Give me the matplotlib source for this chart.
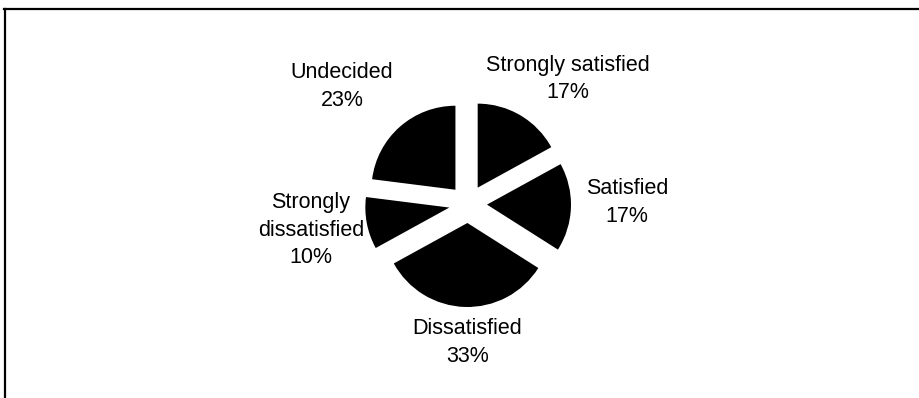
import numpy as np
import matplotlib
matplotlib.use("Agg")
import matplotlib.pyplot as plt
from matplotlib.lines import Line2D

categories = ["Strongly satisfied", "Satisfied", "Dissatisfied",
              "Strongly\ndissatisfied", "Undecided"]
shares = [17, 17, 33, 10, 23]
pct_labels = ["17%", "17%", "33%", "10%", "23%"]

# label offsets from the pie centre, in pie radii (x right, y up)
label_dx = [1.19, 1.89, -0.01, -1.87, -1.50]
label_dy = [1.49, 0.02, -1.65, -0.31, 1.40]

plt.rcParams['font.family'] = ['Liberation Sans', 'DejaVu Sans']

W, H = 919, 398
fig = plt.figure(figsize=(W / 100, H / 100), dpi=100)
ax = fig.add_axes([0, 0, 1, 1])

cx, cy, r = 468, H - 204, 84
gap = 19  # explode offset in pixels (pie uses data units)
wedges, _ = ax.pie(shares, startangle=90, counterclock=False,
                   colors=["black"] * len(shares),
                   explode=[gap] * len(shares),
                   center=(cx, cy), radius=r,
                   wedgeprops=dict(linewidth=0))

for cat, pct, dx, dy in zip(categories, pct_labels, label_dx, label_dy):
    ax.text(cx + dx * r, cy + dy * r, f"{cat}\n{pct}", ha="center", va="center",
            fontsize=15.5, linespacing=1.4, color="black")

ax.set_xlim(0, W)
ax.set_ylim(0, H)
ax.set_aspect("auto")
ax.axis("off")

# chart frame (top and left edges visible)
fig.add_artist(Line2D([4 / W, 1], [1 - 9 / H, 1 - 9 / H], color="black", lw=1.6))
fig.add_artist(Line2D([5 / W, 5 / W], [0, 1 - 9 / H], color="black", lw=1.6))

fig.savefig("out.png", dpi=100, facecolor="white")
